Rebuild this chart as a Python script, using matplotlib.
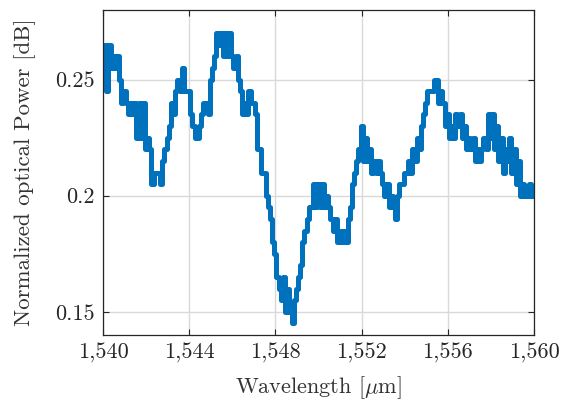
import matplotlib
matplotlib.use("Agg")
import matplotlib.pyplot as plt
import numpy as np
from matplotlib.ticker import FixedLocator, FixedFormatter

plt.rcParams['font.family'] = ['cmr10', 'DejaVu Serif']
plt.rcParams['mathtext.fontset'] = 'cm'
plt.rcParams['axes.unicode_minus'] = False
plt.rcParams['axes.formatter.use_mathtext'] = True

wl_start = 1540.0
wl_step = 0.1
power = [
    0.26, 0.265, 0.245, 0.265, 0.255, 0.26, 0.255, 0.26, 0.25, 0.24,
    0.245, 0.24, 0.235, 0.24, 0.235, 0.24, 0.225, 0.24, 0.225, 0.24,
    0.22, 0.225, 0.22, 0.205, 0.21, 0.21, 0.21, 0.205, 0.215, 0.22,
    0.225, 0.23, 0.24, 0.235, 0.245, 0.25, 0.245, 0.255, 0.245, 0.245,
    0.245, 0.235, 0.23, 0.225, 0.225, 0.23, 0.235, 0.24, 0.24, 0.235,
    0.25, 0.255, 0.26, 0.27, 0.265, 0.27, 0.26, 0.27, 0.26, 0.27,
    0.26, 0.255, 0.26, 0.25, 0.245, 0.235, 0.24, 0.235, 0.245, 0.24,
    0.24, 0.235, 0.22, 0.22, 0.21, 0.21, 0.2, 0.195, 0.19, 0.18,
    0.175, 0.165, 0.16, 0.155, 0.165, 0.15, 0.16, 0.15, 0.145, 0.155,
    0.16, 0.165, 0.17, 0.18, 0.185, 0.19, 0.195, 0.195, 0.205, 0.195,
    0.205, 0.195, 0.205, 0.195, 0.2, 0.195, 0.19, 0.185, 0.19, 0.18,
    0.185, 0.18, 0.185, 0.18, 0.19, 0.195, 0.205, 0.21, 0.215, 0.22,
    0.23, 0.215, 0.225, 0.215, 0.22, 0.21, 0.215, 0.21, 0.215, 0.21,
    0.205, 0.2, 0.205, 0.195, 0.2, 0.195, 0.19, 0.2, 0.205, 0.205,
    0.21, 0.21, 0.215, 0.21, 0.22, 0.215, 0.225, 0.22, 0.23, 0.235,
    0.24, 0.245, 0.245, 0.245, 0.25, 0.25, 0.24, 0.245, 0.24, 0.23,
    0.235, 0.225, 0.23, 0.225, 0.235, 0.23, 0.235, 0.225, 0.23, 0.22,
    0.225, 0.22, 0.225, 0.215, 0.22, 0.215, 0.22, 0.225, 0.22, 0.235,
    0.225, 0.235, 0.22, 0.23, 0.215, 0.225, 0.21, 0.22, 0.215, 0.225,
    0.21, 0.22, 0.205, 0.215, 0.2, 0.205, 0.2, 0.2, 0.205, 0.2,
    0.2,
]
wavelength = wl_start + wl_step * np.arange(len(power))

x_ticks = [1540, 1544, 1548, 1552, 1556, 1560]
x_tick_labels = ['1,540', '1,544', '1,548', '1,552', '1,556', '1,560']
y_ticks = [0.15, 0.2, 0.25]
y_tick_labels = ['0.15', '0.2', '0.25']

W, H = 564, 407
L, R, T, B = 103, 534, 10, 335
fig = plt.figure(figsize=(W/100, H/100), dpi=100)
ax = fig.add_axes([L/W, 1-B/H, (R-L)/W, (B-T)/H])

ax.plot(wavelength, power, color='#0072BD', lw=3.6, drawstyle='steps-mid',
        solid_joinstyle='round')

ax.set_xlim(1540, 1560)
ax.set_ylim(0.14, 0.28)
ax.xaxis.set_major_locator(FixedLocator(x_ticks))
ax.xaxis.set_major_formatter(FixedFormatter(x_tick_labels))
ax.yaxis.set_major_locator(FixedLocator(y_ticks))
ax.yaxis.set_major_formatter(FixedFormatter(y_tick_labels))

ax.grid(True, color='#d9d9d9', lw=1.0)
ax.set_axisbelow(True)
for s in ax.spines.values():
    s.set_color('#262626')
    s.set_linewidth(0.9)
ax.tick_params(direction='in', top=True, right=True, length=4, width=0.8,
               color='#262626', labelcolor='#262626', labelsize=16, pad=6)

ax.set_xlabel(r'Wavelength [$\mu$m]', fontsize=16, color='#333333')
ax.set_ylabel('Normalized optical Power [dB]', fontsize=16.5, color='#333333')
ax.xaxis.set_label_coords(0.5, (B-388)/(B-T))
ax.xaxis.label.set_va('center')
ax.yaxis.set_label_coords((25-L)/(R-L), 0.5)
ax.yaxis.label.set_va('center')

fig.savefig('out.png', dpi=100)
